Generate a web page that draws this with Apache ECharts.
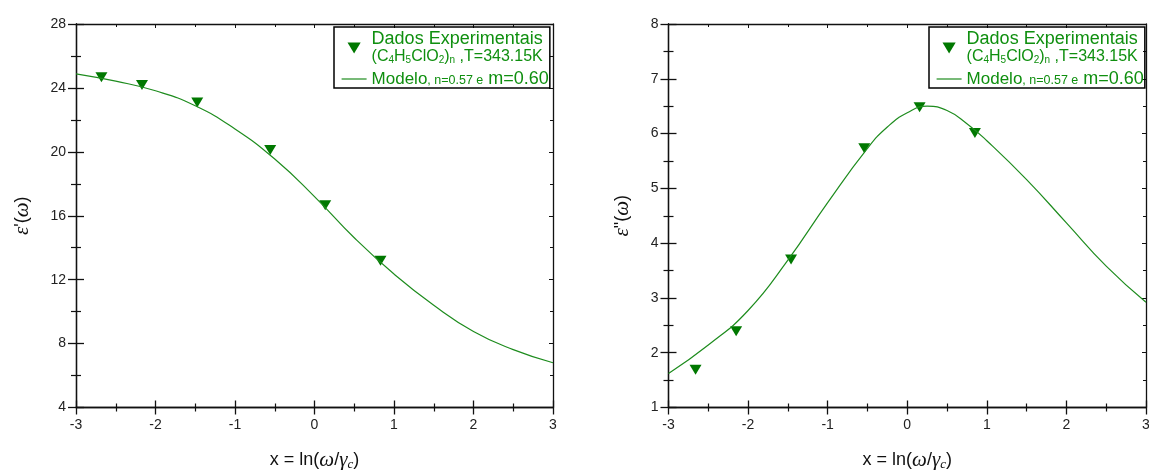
<!DOCTYPE html>
<html>
<head>
<meta charset="utf-8">
<script src="https://cdn.jsdelivr.net/npm/echarts@6/dist/echarts.min.js"></script>
<style>
html,body{margin:0;padding:0;background:#fff;}
#c{width:1149px;height:470px;}
</style>
</head>
<body>
<div id="c"></div>
<script>
// ---- data ----
const xTickLabels = ['-3','-2','-1','0','1','2','3'];
const yTicksReal = [4, 8, 12, 16, 20, 24, 28];
const yTicksImag = [1, 2, 3, 4, 5, 6, 7, 8];

const expXReal = [-2.68, -2.17, -1.475, -0.557, 0.135, 0.83];
const expYReal = [24.67, 24.19, 23.08, 20.12, 16.66, 13.19];

const expXImag = [-2.66, -2.15, -1.46, -0.54, 0.155, 0.85];
const expYImag = [1.69, 2.39, 3.70, 5.73, 6.48, 6.01];

const modelXReal = [-3, -2.5, -2, -1.5, -1, -0.5, 0, 0.5, 1, 1.5, 2, 2.5, 3];
const modelYReal = [24.88, 24.42, 23.82, 22.88, 21.43, 19.55, 17.2, 14.62, 12.35, 10.4, 8.76, 7.62, 6.8];

const modelXImag = [-3, -2.5, -2, -1.5, -1, -0.5, -0.25, 0, 0.25, 0.5, 0.75, 1, 1.5, 2, 2.5, 3];
const modelYImag = [1.62, 2.14, 2.77, 3.69, 4.74, 5.73, 6.12, 6.38, 6.50, 6.42, 6.18, 5.87, 5.16, 4.37, 3.58, 2.92];

const zip = (a, b) => a.map((v, i) => [v, b[i]]);

const GREEN_TXT = '#0f8f0f';
const GREEN_MK = '#007800';
const GREEN_LN = '#1e8c1e';
const AX = '#111';
const SANS = 'Liberation Sans, Arial, sans-serif';
const SERIF = 'Liberation Serif, Times New Roman, serif';

const chart = echarts.init(document.getElementById('c'), null, {renderer: 'canvas'});

const grids = [
  {left: 76, right: 596, top: 24, bottom: 62.5, containLabel: false, outerBoundsMode: 'none'},
  {left: 668.5, right: 3, top: 24, bottom: 62.5, containLabel: false, outerBoundsMode: 'none'}
];

const nameRich = {
  n: {fontFamily: SANS, fontSize: 18, color: AX},
  g: {fontFamily: SERIF, fontStyle: 'italic', fontSize: 21, color: AX},
  s: {fontFamily: SERIF, fontStyle: 'italic', fontSize: 13, color: AX, padding: [10, 0, 0, 0]}
};

function xAxes(gi) {
  const base = {
    type: 'value', gridIndex: gi, min: -3, max: 3, interval: 1,
    splitLine: {show: false},
    axisLine: {show: true, onZero: false, lineStyle: {color: AX, width: 1.3}}
  };
  return [
    Object.assign({}, base, {
      position: 'bottom',
      axisTick: {show: true, inside: false, length: 7, lineStyle: {color: AX, width: 1.3}},
      minorTick: {show: true, splitNumber: 2, length: 4, lineStyle: {color: AX, width: 1.2}},
      axisLabel: {show: true, margin: 11, fontSize: 14, fontFamily: SANS, color: '#222',
        formatter: v => xTickLabels[Math.round(v) + 3]},
      name: '{n|x = ln(}{g|ω}{n|/}{g|γ}{s|c}{n|)}',
      nameLocation: 'middle', nameGap: 41,
      nameTextStyle: {rich: nameRich}
    }),
    Object.assign({}, base, {
      position: 'bottom',
      axisTick: {show: true, inside: true, length: 7, lineStyle: {color: AX, width: 1.3}},
      minorTick: {show: true, splitNumber: 2, length: 4, lineStyle: {color: AX, width: 1.2}},
      axisLabel: {show: false}
    }),
    Object.assign({}, base, {
      position: 'top',
      axisTick: {show: true, inside: true, length: 4, lineStyle: {color: AX, width: 1}},
      minorTick: {show: true, splitNumber: 2, length: 3, lineStyle: {color: AX, width: 1}},
      axisLabel: {show: false}
    })
  ];
}

function yAxes(gi, ticks, interval, name) {
  const base = {
    type: 'value', gridIndex: gi, min: ticks[0], max: ticks[ticks.length - 1], interval: interval,
    splitLine: {show: false},
    axisLine: {show: true, onZero: false, lineStyle: {color: AX, width: 1.3}}
  };
  return [
    Object.assign({}, base, {
      position: 'left',
      axisTick: {show: true, inside: false, length: 8, lineStyle: {color: AX, width: 1.3}},
      minorTick: {show: true, splitNumber: 2, length: 5, lineStyle: {color: AX, width: 1.2}},
      axisLabel: {show: true, margin: 10, fontSize: 14, fontFamily: SANS, color: '#222'},
      name: name, nameLocation: 'middle', nameRotate: 90, nameGap: gi === 0 ? 43 : 36,
      nameTextStyle: {rich: nameRich}
    }),
    Object.assign({}, base, {
      position: 'left',
      axisTick: {show: true, inside: true, length: 8, lineStyle: {color: AX, width: 1.3}},
      minorTick: {show: true, splitNumber: 2, length: 5, lineStyle: {color: AX, width: 1.2}},
      axisLabel: {show: false}
    }),
    Object.assign({}, base, {
      position: 'right',
      axisTick: {show: true, inside: true, length: 4, lineStyle: {color: AX, width: 1}},
      minorTick: {show: true, splitNumber: 2, length: 3, lineStyle: {color: AX, width: 1}},
      axisLabel: {show: false}
    })
  ];
}

const legendRich = {
  l2: {fontSize: 16, fontFamily: SANS, color: GREEN_TXT, lineHeight: 18},
  s: {fontSize: 10, fontFamily: SANS, color: GREEN_TXT, padding: [6, 0, 0, 0], lineHeight: 12},
  md: {fontSize: 17, fontFamily: SANS, color: GREEN_TXT, lineHeight: 18},
  m: {fontSize: 12.5, fontFamily: SANS, color: GREEN_TXT, padding: [3, 0, 0, 0], lineHeight: 14}
};

function legendFormatter(name) {
  if (name === 'Dados Experimentais') {
    return 'Dados Experimentais\n{l2|(C}{s|4}{l2|H}{s|5}{l2|ClO}{s|2}{l2|)}{s|n}{l2| ,T=343.15K}';
  }
  return '{md|Modelo}{m|, n=0.57 e} m=0.60';
}

function legend(left) {
  return {
    left: left, top: 27, orient: 'vertical',
    borderColor: '#000', borderWidth: 1.5, borderRadius: 0,
    padding: [3, 1, 0, 7], itemGap: 4,
    itemWidth: 25, itemHeight: 11,
    selectedMode: false,
    data: [
      {name: 'Dados Experimentais', icon: 'path://M0,0L12,0L6,10Z'},
      {name: 'Modelo', itemStyle: {opacity: 0, color: 'rgba(0,0,0,0)', borderColor: 'rgba(0,0,0,0)', borderWidth: 0},
        lineStyle: {color: GREEN_LN, width: 1.2}}
    ],
    formatter: legendFormatter,
    textStyle: {color: GREEN_TXT, fontSize: 18, fontFamily: SANS, lineHeight: 18, rich: legendRich}
  };
}

const triangle = 'path://M0,0L12,0L6,10Z';

const option = {
  animation: false,
  backgroundColor: '#fff',
  grid: grids,
  xAxis: xAxes(0).concat(xAxes(1)),
  yAxis: yAxes(0, yTicksReal, 4, "{g|ε}{n|'(}{g|ω}{n|)}").concat(yAxes(1, yTicksImag, 1, '{g|ε}{n|"(}{g|ω}{n|)}')),
  legend: [legend(334), legend(929)],
  series: [
    {
      name: 'Modelo', type: 'line', xAxisIndex: 0, yAxisIndex: 0,
      data: zip(modelXReal, modelYReal), smooth: true, symbol: 'none',
      lineStyle: {color: GREEN_LN, width: 1.2}, itemStyle: {color: GREEN_LN}
    },
    {
      name: 'Dados Experimentais', type: 'scatter', xAxisIndex: 0, yAxisIndex: 0,
      data: zip(expXReal, expYReal), symbol: triangle, symbolSize: [12, 10],
      itemStyle: {color: GREEN_MK, opacity: 1}
    },
    {
      name: 'Modelo', type: 'line', xAxisIndex: 3, yAxisIndex: 3,
      data: zip(modelXImag, modelYImag), smooth: true, symbol: 'none',
      lineStyle: {color: GREEN_LN, width: 1.2}, itemStyle: {color: GREEN_LN}
    },
    {
      name: 'Dados Experimentais', type: 'scatter', xAxisIndex: 3, yAxisIndex: 3,
      data: zip(expXImag, expYImag), symbol: triangle, symbolSize: [12, 10],
      itemStyle: {color: GREEN_MK, opacity: 1}
    }
  ]
};

chart.setOption(option);
</script>
</body>
</html>
